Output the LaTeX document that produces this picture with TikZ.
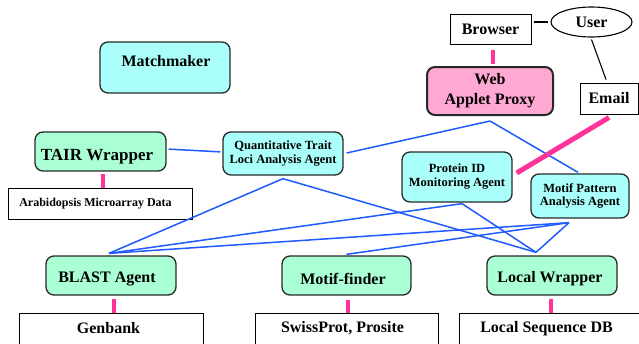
\documentclass[tikz,border=0pt]{standalone}
\usepackage{fontspec}
\setmainfont{Liberation Serif}
\usetikzlibrary{shapes.geometric}
\begin{document}
\begin{tikzpicture}[x=1pt,y=-1pt]
\definecolor{cyanfill}{RGB}{170,255,250}
\definecolor{greenfill}{RGB}{170,255,212}
\definecolor{pinkfill}{RGB}{255,168,212}
\definecolor{pinkline}{RGB}{255,51,153}
\definecolor{blueline}{RGB}{30,90,255}
\definecolor{edgegray}{RGB}{40,40,40}
\tikzset{
  big/.style={font=\fontsize{16}{20}\selectfont\bfseries},
  small/.style={font=\fontsize{12.5}{14}\selectfont\bfseries},
  agent/.style={draw=edgegray, line width=1.3pt, rounded corners=8pt, fill=cyanfill, inner sep=0pt, align=center},
  gagent/.style={agent, fill=greenfill},
  pagent/.style={agent, fill=pinkfill, line width=2pt},
  plainbox/.style={draw=black, line width=1pt, fill=white, inner sep=0pt, align=center},
  blue/.style={draw=blueline, line width=1.5pt},
  pinkc/.style={draw=pinkline, line width=4.5pt},
  blackc/.style={draw=black, line width=1.1pt}
}
\useasboundingbox (0,0) rectangle (639,343);
\begin{scope}
\clip (0,0) rectangle (639,343);
% agents
\node[agent, minimum width=130pt, minimum height=51pt, label={[big, xshift=1pt, yshift=6.5pt]center:Matchmaker}] (mm) at (165,67.5) {};
\node[gagent, minimum width=131pt, minimum height=39pt, label={[big, font=\fontsize{17}{20}\selectfont\bfseries, xshift=-3.5pt, yshift=-5.5pt]center:TAIR Wrapper}] (tair) at (100.5,151.5) {};
\node[plainbox, minimum width=184pt, minimum height=31pt, label={[font=\fontsize{12}{14}\selectfont\bfseries, xshift=-4.5pt]center:Arabidopsis Microarray Data}] (arab) at (100,203.5) {};
\node[agent, small, minimum width=120pt, minimum height=43pt] (qtl) at (283,153.5) {Quantitative Trait\\Loci Analysis Agent};
\node[plainbox, big, minimum width=81pt, minimum height=30pt] (br) at (490.5,29) {Browser};
\node[draw=black, line width=1.1pt, ellipse, big, minimum width=81pt, minimum height=30pt, inner sep=0pt] (us) at (591.5,22) {User};
\node[pagent, font=\fontsize{16}{20}\selectfont\bfseries, minimum width=126pt, minimum height=48pt] (web) at (490,91) {Web\\Applet Proxy};
\node[plainbox, big, minimum width=58pt, minimum height=31pt] (em) at (609,98.5) {Email};
\node[agent, small, minimum width=110pt, minimum height=50pt] (prot) at (457,177) {Protein ID\\Monitoring Agent};
\node[agent, small, font=\fontsize{12.5}{13.5}\selectfont\bfseries, minimum width=98pt, minimum height=44pt] (mp) at (580,196) {Motif Pattern\\Analysis Agent};
\node[gagent, minimum width=130pt, minimum height=39pt, label={[big, xshift=-4pt, yshift=-3.5pt]center:BLAST Agent}] (blast) at (111,275.5) {};
\node[gagent, minimum width=129pt, minimum height=39pt, label={[big, xshift=-3.5pt, yshift=-3.5pt]center:Motif-finder}] (mf) at (346.5,275.5) {};
\node[gagent, minimum width=130pt, minimum height=39pt, label={[big, xshift=-2pt, yshift=-3.5pt]center:Local Wrapper}] (lw) at (552,275.5) {};
\node[plainbox, minimum width=184pt, minimum height=32pt, label={[big, xshift=-2.5pt, yshift=0.5pt]center:Genbank}] (gb) at (111,329) {};
\node[plainbox, minimum width=183pt, minimum height=32pt, label={[big, xshift=-4pt, yshift=0.5pt]center:SwissProt, Prosite}] (sp) at (346.5,329) {};
\node[plainbox, minimum width=183pt, minimum height=32pt, label={[big, xshift=-4pt, yshift=0.5pt]center:Local Sequence DB}] (ls) at (550.5,329) {};
% attachment points
\coordinate (qtlS) at ([yshift=-3pt]qtl.south);
\coordinate (qtlE) at ([xshift=3pt,yshift=0.5pt]qtl.east);
\coordinate (blastN) at ([xshift=-2pt,yshift=2pt]blast.north);
\coordinate (lwN) at ([xshift=-16pt,yshift=3pt]lw.north);
\coordinate (protS) at ([xshift=5pt,yshift=-1pt]prot.south);
\coordinate (mpS) at ([xshift=-11pt,yshift=-4pt]mp.south);
\coordinate (mpN) at ([xshift=-2pt,yshift=1pt]mp.north);
\coordinate (mfN) at ([yshift=1pt]mf.north);
\coordinate (webS) at ([yshift=-5pt]web.south);
% blue connectors
\draw[blue, shorten <=2pt, shorten >=2pt] ([yshift=2.5pt]tair.east) -- ([yshift=1.5pt]qtl.west);
\draw[blue] (qtlS) -- (blastN);
\draw[blue] (qtlS) -- (lwN);
\draw[blue] (protS) -- (blastN);
\draw[blue] (protS) -- (lwN);
\draw[blue] (mpS) -- (blastN);
\draw[blue] (mpS) -- (mfN);
\draw[blue] (mpS) -- (lwN);
\draw[blue] (webS) -- (qtlE);
\draw[blue] (webS) -- (mpN);
% pink connectors
\draw[pinkc, line width=4pt] ([xshift=2.5pt,yshift=-2pt]tair.south) -- ([xshift=2.5pt]tair.south |- arab.north);
\draw[pinkc, line width=4pt] ([xshift=2.5pt,yshift=-5pt]br.south) -- ([xshift=2.5pt,yshift=2pt]br.south |- web.north);
\draw[pinkc, line width=4pt] ([xshift=3pt,yshift=-3pt]blast.south) -- ([xshift=3pt]blast.south |- gb.north);
\draw[pinkc, line width=4pt] ([xshift=1.5pt,yshift=-4pt]mf.south) -- ([xshift=1.5pt]mf.south |- sp.north);
\draw[pinkc, line width=4pt] ([xshift=-1pt,yshift=-3pt]lw.south) -- ([xshift=-1pt]lw.south |- ls.north);
\draw[pinkc, line width=5pt] ([yshift=-3pt]em.south) -- ([xshift=4pt,yshift=4pt]prot.east);
% black connectors
\draw[blackc, shorten <=2pt, shorten >=2pt] (br.east |- us.west) -- (us.west);
\draw[blackc] ([yshift=-2pt]us.south) -- ([xshift=-3pt,yshift=3pt]em.north);
\end{scope}
\end{tikzpicture}
\end{document}
